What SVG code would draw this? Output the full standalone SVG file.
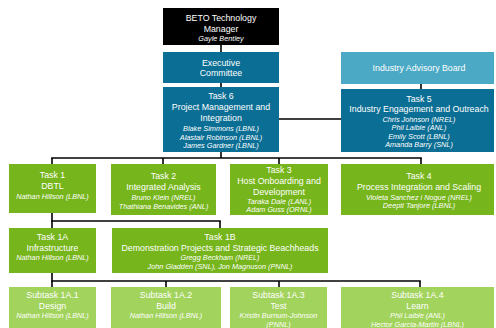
<svg xmlns="http://www.w3.org/2000/svg" width="496" height="328" viewBox="0 0 496 328">
<style>
text{font-family:"Liberation Sans",Arial,sans-serif;fill:#fff;text-anchor:middle}
.t{font-size:8.8px}
.n{font-size:7.3px;font-style:italic}
.blk{fill:#000}
.teal{fill:#0b6e94}
.lt{fill:#4ba9c5}
.g{fill:#76b51b}
.lg{fill:#a2d35c}
#connectors line{stroke:#000;stroke-width:1.6}
</style>
<rect width="496" height="328" fill="#fff"/>
<g id="connectors">
<line x1="221" y1="45" x2="221" y2="52"/>
<line x1="221" y1="83" x2="221" y2="88"/>
<line x1="221" y1="152" x2="221" y2="158"/>
<line x1="51.2" y1="158" x2="421.8" y2="158"/>
<line x1="52" y1="158" x2="52" y2="164"/>
<line x1="163" y1="158" x2="163" y2="164"/>
<line x1="279" y1="158" x2="279" y2="164"/>
<line x1="421" y1="158" x2="421" y2="164"/>
<line x1="279" y1="119" x2="341" y2="119"/>
<line x1="421" y1="84" x2="421" y2="89"/>
<line x1="52" y1="213" x2="52" y2="221"/>
<line x1="51.2" y1="221" x2="220.8" y2="221"/>
<line x1="52" y1="221" x2="52" y2="228"/>
<line x1="220" y1="221" x2="220" y2="228"/>
<line x1="52" y1="273" x2="52" y2="281"/>
<line x1="51.2" y1="281" x2="420.8" y2="281"/>
<line x1="52" y1="281" x2="52" y2="287"/>
<line x1="166" y1="281" x2="166" y2="287"/>
<line x1="279" y1="281" x2="279" y2="287"/>
<line x1="420" y1="281" x2="420" y2="287"/>
</g>
<g id="beto">
<rect class="blk" x="163" y="8" width="116" height="37"/>
<text class="t" x="221" y="21">BETO Technology</text>
<text class="t" x="221" y="32">Manager</text>
<text class="n" x="221" y="41">Gayle Bentley</text>
</g>
<g id="exec">
<rect class="teal" x="163" y="52" width="116" height="31"/>
<text class="t" x="221" y="66">Executive</text>
<text class="t" x="221" y="76">Committee</text>
</g>
<g id="task6">
<rect class="teal" x="163" y="87" width="116" height="65"/>
<text class="t" x="221" y="99">Task 6</text>
<text class="t" x="221" y="110">Project Management and</text>
<text class="t" x="221" y="121">Integration</text>
<text class="n" x="221" y="131">Blake Simmons (LBNL)</text>
<text class="n" x="221" y="139.5">Alastair Robinson (LBNL)</text>
<text class="n" x="221" y="148">James Gardner (LBNL)</text>
</g>
<g id="iab">
<rect class="lt" x="341" y="52" width="153" height="32"/>
<text class="t" x="419" y="71">Industry Advisory Board</text>
</g>
<g id="task5">
<rect class="teal" x="341" y="89" width="153" height="63"/>
<text class="t" x="419" y="102">Task 5</text>
<text class="t" x="419" y="112">Industry Engagement and Outreach</text>
<text class="n" x="419" y="122">Chris Johnson (NREL)</text>
<text class="n" x="419" y="130">Phil Laible (ANL)</text>
<text class="n" x="419" y="138.5">Emily Scott (LBNL)</text>
<text class="n" x="419" y="147">Amanda Barry (SNL)</text>
</g>
<g id="task1">
<rect class="g" x="9" y="164" width="87" height="49"/>
<text class="t" x="52.5" y="178">Task 1</text>
<text class="t" x="52.5" y="189">DBTL</text>
<text class="n" x="52.5" y="199">Nathan Hillson (LBNL)</text>
</g>
<g id="task2">
<rect class="g" x="111" y="164" width="105" height="51"/>
<text class="t" x="163.5" y="179">Task 2</text>
<text class="t" x="163.5" y="190">Integrated Analysis</text>
<text class="n" x="163.5" y="200">Bruno Klein (NREL)</text>
<text class="n" x="163.5" y="208.5">Thathiana Benavides (ANL)</text>
</g>
<g id="task3">
<rect class="g" x="230" y="164" width="98" height="51"/>
<text class="t" x="279" y="173">Task 3</text>
<text class="t" x="279" y="184">Host Onboarding and</text>
<text class="t" x="279" y="194.5">Development</text>
<text class="n" x="279" y="204">Taraka Dale (LANL)</text>
<text class="n" x="279" y="212">Adam Guss (ORNL)</text>
</g>
<g id="task4">
<rect class="g" x="341" y="164" width="153" height="51"/>
<text class="t" x="419" y="179">Task 4</text>
<text class="t" x="419" y="190">Process Integration and Scaling</text>
<text class="n" x="419" y="199.5">Violeta Sanchez i Nogue (NREL)</text>
<text class="n" x="419" y="208">Deepti Tanjore (LBNL)</text>
</g>
<g id="task1a">
<rect class="g" x="9" y="228" width="87" height="45"/>
<text class="t" x="52.5" y="240">Task 1A</text>
<text class="t" x="52.5" y="251">Infrastructure</text>
<text class="n" x="52.5" y="260">Nathan Hillson (LBNL)</text>
</g>
<g id="task1b">
<rect class="g" x="112" y="228" width="216" height="45"/>
<text class="t" x="220" y="240">Task 1B</text>
<text class="t" x="220" y="251">Demonstration Projects and Strategic Beachheads</text>
<text class="n" x="220" y="260">Gregg Beckham (NREL)</text>
<text class="n" x="220" y="269">John Gladden (SNL), Jon Magnuson (PNNL)</text>
</g>
<g id="sub1">
<rect class="lg" x="9" y="287" width="87" height="45"/>
<text class="t" x="52.5" y="298">Subtask 1A.1</text>
<text class="t" x="52.5" y="309">Design</text>
<text class="n" x="52.5" y="318">Nathan Hillson (LBNL)</text>
</g>
<g id="sub2">
<rect class="lg" x="111" y="287" width="110" height="45"/>
<text class="t" x="166" y="298">Subtask 1A.2</text>
<text class="t" x="166" y="309">Build</text>
<text class="n" x="166" y="318">Nathan Hillson (LBNL)</text>
</g>
<g id="sub3">
<rect class="lg" x="230" y="287" width="97" height="45"/>
<text class="t" x="278.5" y="298">Subtask 1A.3</text>
<text class="t" x="278.5" y="309">Test</text>
<text class="n" x="278.5" y="318">Kristin Burnum-Johnson</text>
<text class="n" x="278.5" y="327">(PNNL)</text>
</g>
<g id="sub4">
<rect class="lg" x="341" y="287" width="153" height="45"/>
<text class="t" x="417.5" y="298">Subtask 1A.4</text>
<text class="t" x="417.5" y="309">Learn</text>
<text class="n" x="417.5" y="318">Phil Laible (ANL)</text>
<text class="n" x="417.5" y="327">Hector Garcia-Martin (LBNL)</text>
</g>
</svg>
